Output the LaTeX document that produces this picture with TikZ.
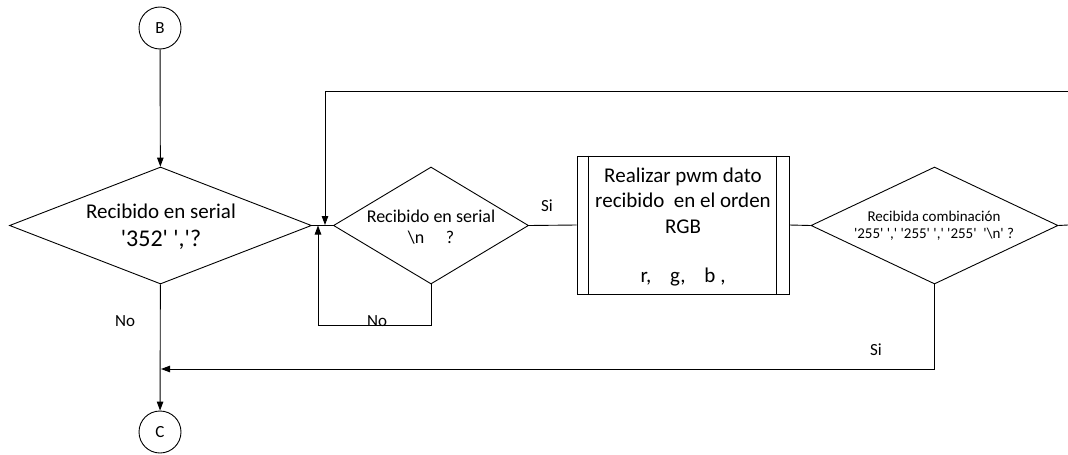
\documentclass[tikz,border=0pt]{standalone}
\usepackage{fontspec}
\setmainfont{Carlito}[Ligatures=TeXOff]
\usetikzlibrary{shapes.geometric,arrows.meta}
\begin{document}
\begin{tikzpicture}[x=1pt,y=-1pt, line width=0.9pt,
  >={Triangle[length=9pt,width=6.5pt]},
  dec/.style={draw, diamond, inner sep=0pt},
  conn/.style={draw, circle, minimum size=42pt, inner sep=0pt, font=\fontsize{17}{19}\selectfont},
  lbl/.style={font=\fontsize{17}{19}\selectfont, inner sep=0pt},
  txt/.style={align=center, inner sep=0pt},
  proc/.style={draw, rectangle, inner sep=0pt, minimum width=212pt, minimum height=138pt}
]
\useasboundingbox (0,0) rectangle (1068,455);

% connectors circles
\node[conn] (B) at (160,28) {B};
\node[conn] (C) at (160,432) {C};

% decisions
\node[dec, minimum width=302pt, minimum height=117pt] (d1) at (160.5,225.5) {};
\node[txt, font=\fontsize{21}{28}\selectfont] (d1t) at (161,227) {Recibido en serial\\{\fontsize{24}{28}\selectfont '352' ','?}};

\node[dec, minimum width=195pt, minimum height=117pt] (d2) at (431,225.5) {};
\node[txt, font=\fontsize{18}{21}\selectfont] (d2t) at (431,227) {Recibido en serial\\\textbackslash n\hspace{1.2em}?};

\node[proc] (p) at (683,225) {};
\draw ([xshift=12pt]p.north west) -- ([xshift=12pt]p.south west);
\draw ([xshift=-13pt]p.north east) -- ([xshift=-13pt]p.south east);
\node[txt, font=\fontsize{21}{25.5}\selectfont] (pt) at (683,227) {Realizar pwm dato\\recibido\ \ en el orden\\RGB\\[24pt]r,\hspace{0.9em}g,\hspace{0.9em}b ,};

\node[dec, minimum width=247pt, minimum height=117pt] (d3) at (934.5,225.5) {};
\node[txt, font=\fontsize{15}{17}\selectfont] (d3t) at (934,226) {Recibida combinación\\'255' ',' '255' ',' '255'\ \ '\textbackslash n' ?};

% free ends / junctions
\coordinate (e1) at (1068,225);
\coordinate (e2) at (1068,91);
\coordinate (j1) at (325,225);
\coordinate (lp) at (318,325);
\coordinate (j3) at (318,225.5);
\coordinate (j2) at (161,369);

% connectors
\draw[->] (B) -- (d1);
\draw[->] (d1) -- (C);
\draw (d1.east) -- (d2.west);
\draw[->] (e2) -| (j1);
\draw[->] (d2.south) |- (lp) -- (j3);
\draw (d2.east) -- (p.west);
\draw (p.east) -- (d3.west);
\draw (d3.east) -- (e1);
\draw[->] (d3.south) |- (j2);

% labels
\node[lbl] (no1) at (125,321) {No};
\node[lbl] (no2) at (377,321) {No};
\node[lbl] (si1) at (547,206) {Si};
\node[lbl] (si2) at (876,350) {Si};
\end{tikzpicture}
\end{document}
